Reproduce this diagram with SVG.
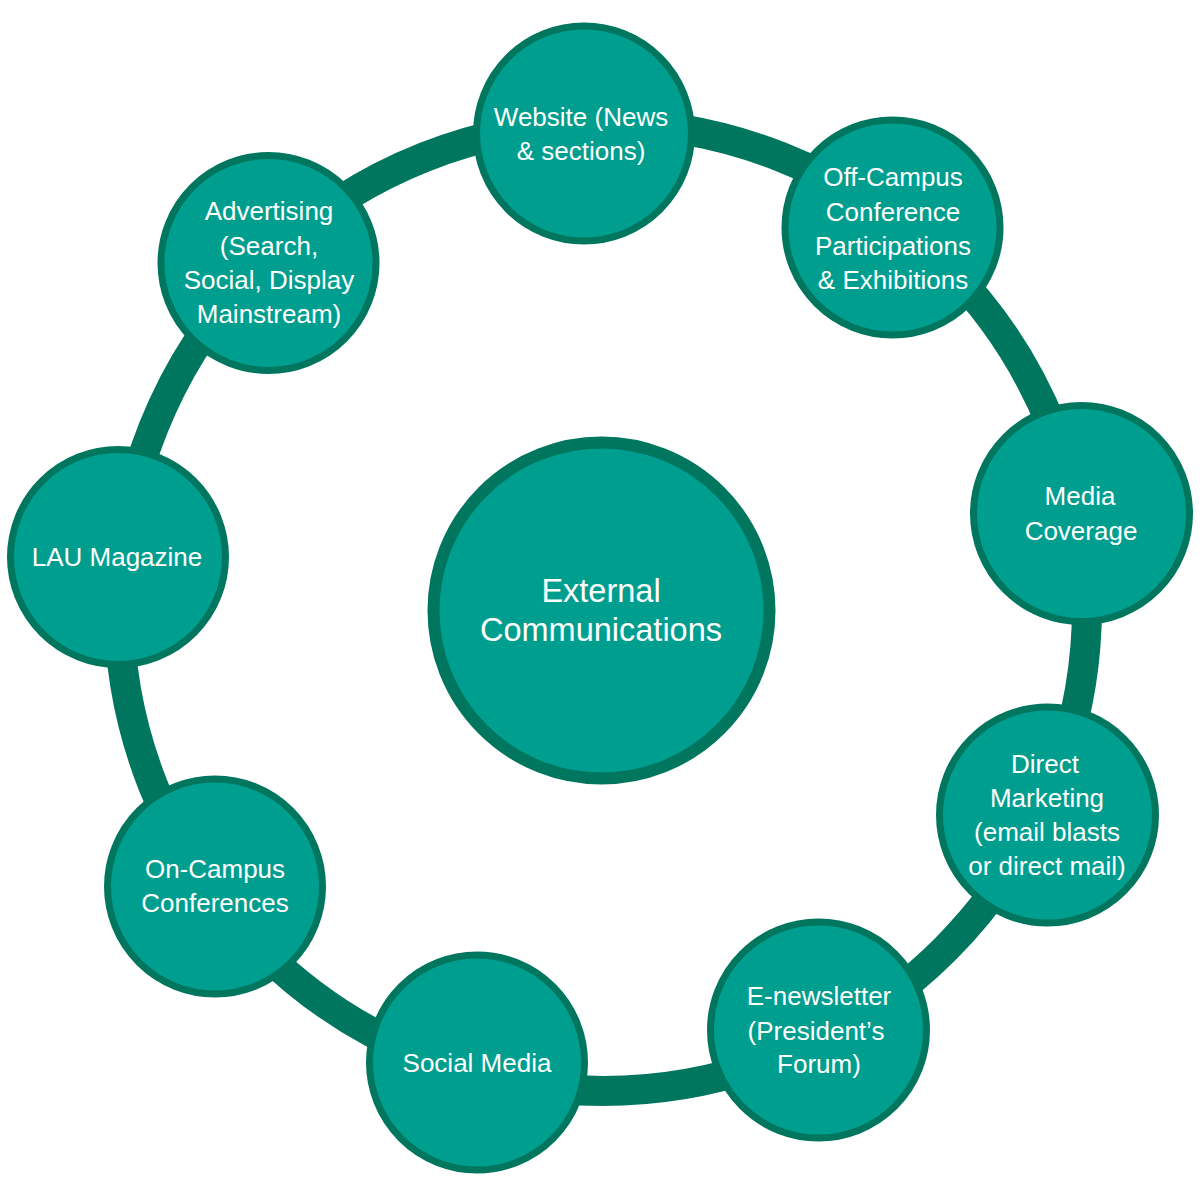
<svg xmlns="http://www.w3.org/2000/svg" width="1200" height="1200" viewBox="0 0 1200 1200">
<style>
.node circle{fill:#009E8E;stroke:#00765F;stroke-width:7}
.hub circle{fill:#009E8E;stroke:#00765F;stroke-width:12}
text{fill:#ffffff;font-family:"Liberation Sans",Arial,sans-serif;font-size:26px;text-anchor:middle}
.hub text{font-size:32.5px}
.ring{fill:none;stroke:#00765F;stroke-width:30}
</style>
<rect width="1200" height="1200" fill="#ffffff"/>
<g id="connectors">
<circle class="ring" cx="603" cy="607" r="484"/>
</g>
<g id="hub" class="hub">
<circle cx="601.5" cy="610.5" r="168"/>
<text x="601" y="602">External</text>
<text x="601" y="641">Communications</text>
</g>
<g id="website" class="node">
<circle cx="584" cy="133.5" r="107.5"/>
<text x="581" y="126">Website (News</text>
<text x="581" y="160">&amp; sections)</text>
</g>
<g id="offcampus" class="node">
<circle cx="892.5" cy="227.5" r="107.5"/>
<text x="893" y="186">Off-Campus</text>
<text x="893" y="221">Conference</text>
<text x="893" y="255">Participations</text>
<text x="893" y="289">&amp; Exhibitions</text>
</g>
<g id="media" class="node">
<circle cx="1081.5" cy="513.5" r="108"/>
<text x="1080" y="505">Media</text>
<text x="1081" y="540">Coverage</text>
</g>
<g id="direct" class="node">
<circle cx="1047.5" cy="815" r="108"/>
<text x="1045" y="773">Direct</text>
<text x="1047" y="807">Marketing</text>
<text x="1047" y="841">(email blasts</text>
<text x="1047" y="875">or direct mail)</text>
</g>
<g id="enewsletter" class="node">
<circle cx="818.5" cy="1030" r="108"/>
<text x="819" y="1005">E-newsletter</text>
<text x="816" y="1040">(President’s</text>
<text x="819" y="1073">Forum)</text>
</g>
<g id="social" class="node">
<circle cx="477" cy="1062.5" r="107.5"/>
<text x="477" y="1072">Social Media</text>
</g>
<g id="oncampus" class="node">
<circle cx="215" cy="886.5" r="107.5"/>
<text x="215" y="878">On-Campus</text>
<text x="215" y="912">Conferences</text>
</g>
<g id="lau" class="node">
<circle cx="118" cy="557" r="107.5"/>
<text x="117" y="566">LAU Magazine</text>
</g>
<g id="advertising" class="node">
<circle cx="268.5" cy="263" r="107.5"/>
<text x="269" y="220">Advertising</text>
<text x="269" y="255">(Search,</text>
<text x="269" y="289">Social, Display</text>
<text x="269" y="323">Mainstream)</text>
</g>
</svg>
